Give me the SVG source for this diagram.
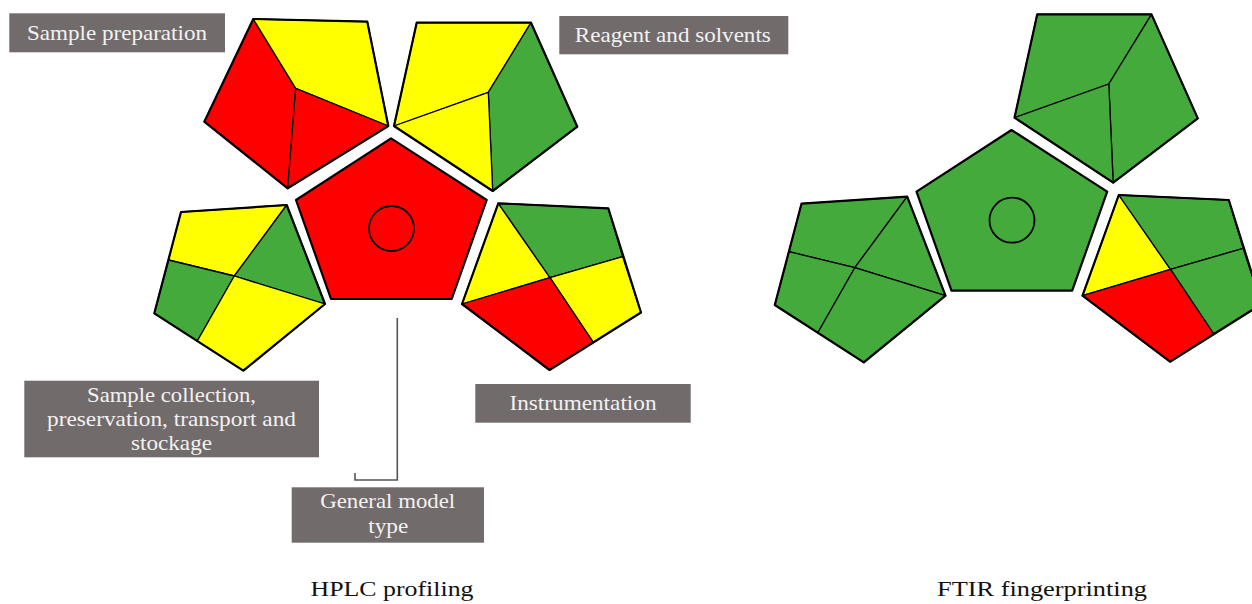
<svg xmlns="http://www.w3.org/2000/svg" width="1252" height="604" viewBox="0 0 1252 604">
<style>
.r{fill:#ff0000}.y{fill:#ffff00}.g{fill:#43aa3b}
.in{stroke:#000;stroke-width:1.3;stroke-linejoin:round}
.out{fill:none;stroke:#000;stroke-width:2.2;stroke-linejoin:round}
.box{fill:#726b6b}
.lt{font-family:"Liberation Serif","Times New Roman",serif;font-size:21px;fill:#f2f2f2;text-anchor:middle}
.tt{font-family:"Liberation Serif","Times New Roman",serif;font-size:20px;fill:#111;text-anchor:middle}
.conn{fill:none;stroke:#555;stroke-width:1.6}
</style>
<rect width="1252" height="604" fill="#fff"/>

<!-- HPLC -->
<g id="hplc-sample-preparation">
<polygon class="r in" points="253.3,19 295.7,88.3 287.7,188.3 204.3,121.7"/>
<polygon class="y in" points="253.3,19 367.3,21.7 388.3,126 295.7,88.3"/>
<polygon class="r in" points="295.7,88.3 388.3,126 287.7,188.3"/>
<polygon class="out" points="253.3,19 367.3,21.7 388.3,126 287.7,188.3 204.3,121.7"/>
</g>
<g id="hplc-reagent">
<polygon class="y in" points="416.7,22.7 531,22.7 488.3,92.3 394,126"/>
<polygon class="g in" points="531,22.7 577.3,126.7 492.7,191 488.3,92.3"/>
<polygon class="y in" points="394,126 488.3,92.3 492.7,191"/>
<polygon class="out" points="416.7,22.7 531,22.7 577.3,126.7 492.7,191 394,126"/>
</g>
<g id="hplc-general">
<polygon class="r out" style="fill:#ff0000" points="391,138.3 486.7,200 451.7,299 331,299 296,200"/>
<circle cx="391.5" cy="228.5" r="22.5" fill="none" stroke="#000" stroke-width="1.8"/>
</g>
<g id="hplc-sample-collection">
<polygon class="y in" points="181,212 286.7,205 234.3,276 168.5,260"/>
<polygon class="g in" points="286.7,205 325,304 234.3,276"/>
<polygon class="g in" points="168.5,260 234.3,276 197.3,341 154.3,313.3"/>
<polygon class="y in" points="234.3,276 325,304 243.3,370.7 197.3,341"/>
<polygon class="out" points="181,212 286.7,205 325,304 243.3,370.7 154.3,313.3"/>
</g>
<g id="hplc-instrumentation">
<polygon class="y in" points="498.3,203.3 550,277.7 462,304"/>
<polygon class="g in" points="498.3,203.3 608.3,208.3 622.7,256.7 550,277.7"/>
<polygon class="y in" points="550,277.7 622.7,256.7 641,312.5 593.3,342.3"/>
<polygon class="r in" points="462,304 550,277.7 593.3,342.3 549.5,370"/>
<polygon class="out" points="498.3,203.3 608.3,208.3 641,312.5 549.5,370 462,304"/>
</g>

<!-- FTIR -->
<g id="ftir" transform="translate(620.5,-8.3)">
<g id="ftir-reagent">
<polygon class="g in" points="416.7,22.7 531,22.7 488.3,92.3 394,126"/>
<polygon class="g in" points="531,22.7 577.3,126.7 492.7,191 488.3,92.3"/>
<polygon class="g in" points="394,126 488.3,92.3 492.7,191"/>
<polygon class="out" points="416.7,22.7 531,22.7 577.3,126.7 492.7,191 394,126"/>
</g>
<g id="ftir-general">
<polygon class="out" style="fill:#43aa3b" points="391,138.3 486.7,200 451.7,299 331,299 296,200"/>
<circle cx="391.5" cy="228.5" r="22.5" fill="none" stroke="#000" stroke-width="1.8"/>
</g>
<g id="ftir-sample-collection">
<polygon class="g in" points="181,212 286.7,205 234.3,276 168.5,260"/>
<polygon class="g in" points="286.7,205 325,304 234.3,276"/>
<polygon class="g in" points="168.5,260 234.3,276 197.3,341 154.3,313.3"/>
<polygon class="g in" points="234.3,276 325,304 243.3,370.7 197.3,341"/>
<polygon class="out" points="181,212 286.7,205 325,304 243.3,370.7 154.3,313.3"/>
</g>
<g id="ftir-instrumentation">
<polygon class="y in" points="498.3,203.3 550,277.7 462,304"/>
<polygon class="g in" points="498.3,203.3 608.3,208.3 622.7,256.7 550,277.7"/>
<polygon class="g in" points="550,277.7 622.7,256.7 641,312.5 593.3,342.3"/>
<polygon class="r in" points="462,304 550,277.7 593.3,342.3 549.5,370"/>
<polygon class="out" points="498.3,203.3 608.3,208.3 641,312.5 549.5,370 462,304"/>
</g>
</g>

<!-- connectors -->
<g id="connectors">
<polyline class="conn" points="397.3,318 397.3,480 355,480 355,473"/>
</g>

<!-- labels -->
<g id="label-sample-preparation">
<rect class="box" x="9.3" y="13.3" width="215.7" height="39"/>
<text class="lt" x="117" y="40" textLength="180" lengthAdjust="spacingAndGlyphs">Sample preparation</text>
</g>
<g id="label-reagent">
<rect class="box" x="559.3" y="16" width="229" height="38.3"/>
<text class="lt" x="672.8" y="42.3" textLength="196" lengthAdjust="spacingAndGlyphs">Reagent and solvents</text>
</g>
<g id="label-instrumentation">
<rect class="box" x="475.3" y="384" width="215.4" height="38.7"/>
<text class="lt" x="583" y="410" textLength="147" lengthAdjust="spacingAndGlyphs">Instrumentation</text>
</g>
<g id="label-sample-collection">
<rect class="box" x="24.3" y="380.7" width="294.7" height="76.6"/>
<text class="lt" x="171.5" y="401.7" textLength="169" lengthAdjust="spacingAndGlyphs">Sample collection,</text>
<text class="lt" x="171.5" y="425.5" textLength="249" lengthAdjust="spacingAndGlyphs">preservation, transport and</text>
<text class="lt" x="171.5" y="449.5" textLength="81" lengthAdjust="spacingAndGlyphs">stockage</text>
</g>
<g id="label-general-model">
<rect class="box" x="291.7" y="487.3" width="192.3" height="55.4"/>
<text class="lt" x="387.7" y="508.3" textLength="135" lengthAdjust="spacingAndGlyphs">General model</text>
<text class="lt" x="388.3" y="533" textLength="40" lengthAdjust="spacingAndGlyphs">type</text>
</g>
<g id="titles">
<text class="tt" x="392" y="596" textLength="163" lengthAdjust="spacingAndGlyphs">HPLC profiling</text>
<text class="tt" x="1042" y="596" textLength="210" lengthAdjust="spacingAndGlyphs">FTIR fingerprinting</text>
</g>
</svg>
